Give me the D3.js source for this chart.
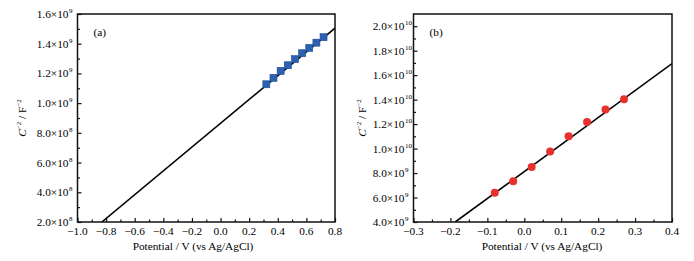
<!DOCTYPE html>
<html>
<head>
<meta charset="utf-8">
<script src="https://cdn.jsdelivr.net/npm/d3@7"></script>
<style>
	body { margin: 0; background: #fff; }
	svg { display: block; font-family: "Liberation Serif", "DejaVu Serif", serif; }
	.frame { fill: none; stroke: #111; stroke-width: 1.5; }
	.tick line { stroke: #111; stroke-width: 1.2; }
	.fit { fill: none; stroke: #000; stroke-width: 1.6; }
</style>
</head>
<body>
<svg id="chart" width="694" height="261"></svg>
<script>
const WIDTH = 694;
const HEIGHT = 261;

// panel (a)
const potentialA = [0.32, 0.37, 0.42, 0.47, 0.52, 0.57, 0.62, 0.67, 0.72];
const invCapA = [1.127e9, 1.17e9, 1.217e9, 1.255e9, 1.296e9, 1.336e9, 1.372e9, 1.407e9, 1.444e9];
const fitA = [[-0.83, 2.0e8], [0.8, 1.505e9]];
const xTicksA = [-1.0, -0.8, -0.6, -0.4, -0.2, 0.0, 0.2, 0.4, 0.6, 0.8];
const yTicksA = [2e8, 4e8, 6e8, 8e8, 1.0e9, 1.2e9, 1.4e9, 1.6e9];

// panel (b)
const potentialB = [-0.08, -0.03, 0.02, 0.07, 0.12, 0.17, 0.22, 0.27];
const invCapB = [6.4e9, 7.33e9, 8.5e9, 9.76e9, 1.1e10, 1.218e10, 1.319e10, 1.404e10];
const fitB = [[-0.187, 4.0e9], [0.4, 1.695e10]];
const xTicksB = [-0.3, -0.2, -0.1, 0.0, 0.1, 0.2, 0.3, 0.4];
const yTicksB = [4e9, 6e9, 8e9, 1.0e10, 1.2e10, 1.4e10, 1.6e10, 1.8e10, 2.0e10];

const svg = d3.select("#chart");

const minus = s => s.replace("-", "\u2212");

function midpoints(ticks) {
	const out = [];
	for (let i = 0; i < ticks.length - 1; ++i) {
		out.push((ticks[i] + ticks[i + 1]) / 2);
	}
	return out;
}

function sciParts(v) {
	const exp = Math.floor(Math.log10(v) + 1e-9);
	const mant = v / 10 ** exp;
	return { mant: mant.toFixed(1), exp: String(exp) };
}

function drawPanel(cfg) {
	const { left, right, top, bottom } = cfg.box;
	const x = d3.scaleLinear(cfg.xDomain, [left, right]);
	const y = d3.scaleLinear(cfg.yDomain, [bottom, top]);
	const g = svg.append("g");

	// major and minor ticks, pointing inward
	g.append("g")
		.attr("transform", `translate(0,${bottom})`)
		.call(d3.axisBottom(x).tickValues(cfg.xTicks).tickSize(-4).tickFormat(""))
		.call(a => a.select(".domain").remove());
	g.append("g")
		.attr("transform", `translate(0,${bottom})`)
		.call(d3.axisBottom(x).tickValues(midpoints(cfg.xTicks)).tickSize(-2.5).tickFormat(""))
		.call(a => a.select(".domain").remove());
	g.append("g")
		.attr("transform", `translate(${left},0)`)
		.call(d3.axisLeft(y).tickValues(cfg.yTicks).tickSize(-4).tickFormat(""))
		.call(a => a.select(".domain").remove());
	g.append("g")
		.attr("transform", `translate(${left},0)`)
		.call(d3.axisLeft(y).tickValues(midpoints(cfg.yTicks)).tickSize(-2.5).tickFormat(""))
		.call(a => a.select(".domain").remove());

	// x tick labels
	g.selectAll(".xlab")
		.data(cfg.xTicks)
		.join("text")
		.attr("x", d => x(d))
		.attr("y", bottom + 13)
		.attr("text-anchor", "middle")
		.attr("font-size", 11.3)
		.attr("fill", "#000")
		.text(d => minus(d.toFixed(1)));

	// y tick labels like 1.6x10^9
	const yl = g.selectAll(".ylab")
		.data(cfg.yTicks)
		.join("g")
		.attr("transform", d => `translate(${left - 9},${y(d) + 4})`);
	yl.append("text")
		.attr("text-anchor", "end")
		.attr("font-size", 11.3)
		.attr("fill", "#000")
		.text(d => sciParts(d).mant + "\u00d710");
	yl.append("text")
		.attr("x", 0.5)
		.attr("y", -5)
		.attr("font-size", 7)
		.attr("fill", "#000")
		.text(d => sciParts(d).exp);

	// fit line, clipped to the plot box
	const clipId = "clip-" + cfg.name;
	svg.append("clipPath").attr("id", clipId)
		.append("rect")
		.attr("x", left).attr("y", top)
		.attr("width", right - left).attr("height", bottom - top);
	g.append("path")
		.datum(cfg.fit)
		.attr("class", "fit")
		.attr("clip-path", `url(#${clipId})`)
		.attr("d", d3.line(d => x(d[0]), d => y(d[1])));

	// points
	const pts = cfg.xs.map((v, i) => [v, cfg.ys[i]]);
	if (cfg.marker === "square") {
		g.selectAll(".pt")
			.data(pts)
			.join("rect")
			.attr("x", d => x(d[0]) - 3.5)
			.attr("y", d => y(d[1]) - 3.5)
			.attr("width", 7)
			.attr("height", 7)
			.attr("fill", "#2c60b0")
			.attr("stroke", "#1f4d94")
			.attr("stroke-width", 0.6);
	} else {
		g.selectAll(".pt")
			.data(pts)
			.join("circle")
			.attr("cx", d => x(d[0]))
			.attr("cy", d => y(d[1]))
			.attr("r", 4)
			.attr("fill", "#e8302c");
	}

	// frame
	g.append("rect")
		.attr("class", "frame")
		.attr("x", left).attr("y", top)
		.attr("width", right - left).attr("height", bottom - top);

	// panel tag
	g.append("text")
		.attr("x", left + 16)
		.attr("y", top + 22)
		.attr("font-size", 11.3)
		.attr("fill", "#000")
		.text(cfg.tag);

	// axis titles
	g.append("text")
		.attr("x", cfg.xTitleX)
		.attr("y", bottom + 28)
		.attr("text-anchor", "middle")
		.attr("font-size", 11.3)
		.attr("fill", "#000")
		.text("Potential / V (vs Ag/AgCl)");

	const yt = g.append("text")
		.attr("transform", `translate(${cfg.yTitleX},${(top + bottom) / 2}) rotate(-90)`)
		.attr("text-anchor", "middle")
		.attr("font-size", 11.3)
		.attr("fill", "#000");
	yt.append("tspan").attr("font-style", "italic").text("C");
	yt.append("tspan").attr("font-size", 7).attr("dy", -5).text("\u22122");
	yt.append("tspan").attr("dy", 5).text(" / F");
	yt.append("tspan").attr("font-size", 7).attr("dy", -5).text("\u22122");
}

drawPanel({
	name: "a",
	box: { left: 77.5, right: 335, top: 14, bottom: 222 },
	xDomain: [-1.0, 0.8],
	yDomain: [2e8, 1.6e9],
	xTicks: xTicksA,
	yTicks: yTicksA,
	xs: potentialA,
	ys: invCapA,
	fit: fitA,
	marker: "square",
	tag: "(a)",
	xTitleX: 193,
	yTitleX: 26,
});

drawPanel({
	name: "b",
	box: { left: 413.5, right: 672, top: 14, bottom: 222 },
	xDomain: [-0.3, 0.4],
	yDomain: [4e9, 2.1e10],
	xTicks: xTicksB,
	yTicks: yTicksB,
	xs: potentialB,
	ys: invCapB,
	fit: fitB,
	marker: "circle",
	tag: "(b)",
	xTitleX: 542,
	yTitleX: 366,
});
</script>
</body>
</html>
